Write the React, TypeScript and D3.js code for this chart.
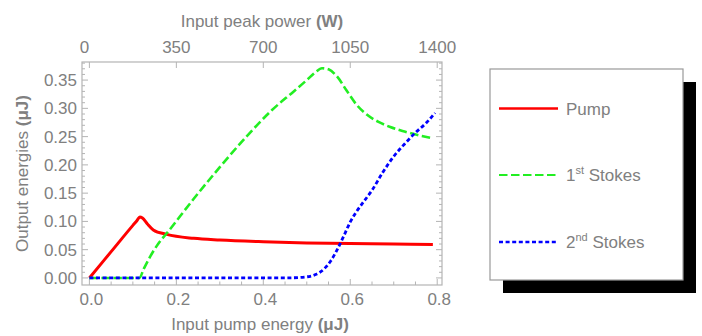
import { useEffect, useRef } from 'react';
import * as d3 from 'd3';

// Input pump energy (uJ) and output energies (uJ)
const pumpX = [0, 0.05, 0.1, 0.11, 0.116, 0.122, 0.133, 0.147, 0.178, 0.24, 0.3, 0.4, 0.5, 0.6, 0.7, 0.79];
const pumpY = [0, 0.0465, 0.093, 0.102, 0.108, 0.106, 0.096, 0.085, 0.077, 0.07, 0.067, 0.064, 0.062, 0.061, 0.06, 0.059];

const stokes1X = [0, 0.115, 0.125, 0.14, 0.158, 0.178, 0.24, 0.3, 0.36, 0.42, 0.47, 0.5, 0.52, 0.535, 0.55, 0.57, 0.592, 0.615, 0.638, 0.665, 0.692, 0.72, 0.749, 0.79];
const stokes1Y = [0, 0, 0.016, 0.038, 0.06, 0.079, 0.14, 0.196, 0.249, 0.297, 0.33, 0.35, 0.364, 0.371, 0.369, 0.356, 0.331, 0.306, 0.289, 0.276, 0.267, 0.26, 0.254, 0.247];

const stokes2X = [0, 0.45, 0.5, 0.52, 0.54, 0.555, 0.57, 0.585, 0.6, 0.615, 0.63, 0.65, 0.675, 0.7, 0.725, 0.75, 0.775, 0.795];
const stokes2Y = [0, 0, 0.002, 0.006, 0.016, 0.03, 0.05, 0.074, 0.099, 0.118, 0.134, 0.155, 0.187, 0.215, 0.237, 0.257, 0.2745, 0.292];

const bottomTicks = [0, 0.2, 0.4, 0.6, 0.8];
const leftTicks = [0, 0.05, 0.1, 0.15, 0.2, 0.25, 0.3, 0.35];
const topTicks = [0, 350, 700, 1050, 1400];
const powerPerEnergy = 1750; // W per uJ

const series = [
    { name: 'Pump', sup: '', rest: '', xs: pumpX, ys: pumpY, color: '#ff0000', dash: 'none', width: 3 },
    { name: '1', sup: 'st', rest: ' Stokes', xs: stokes1X, ys: stokes1Y, color: '#22ee22', dash: '8.5,3.5', width: 2.6 },
    { name: '2', sup: 'nd', rest: ' Stokes', xs: stokes2X, ys: stokes2Y, color: '#0000ff', dash: '4,2.6', width: 2.8 },
];

const FONT = '"Liberation Sans", Arial, sans-serif';
const TEXT = '#808080';
const FRAME = '#b4b4b4';

export default function App() {
    const svgRef = useRef<SVGSVGElement>(null);

    useEffect(() => {
        if (!svgRef.current) return;
        d3.select(svgRef.current).selectAll('*').remove();
        const svg = d3.select(svgRef.current);

        const left = 82, right = 442, top = 62, bottom = 285;

        const x = d3.scaleLinear().domain([-0.017, 0.811]).range([left, right]);
        const y = d3.scaleLinear().domain([-0.0125, 0.382]).range([bottom, top]);
        const xTop = d3.scaleLinear()
            .domain(x.domain().map(d => d * powerPerEnergy))
            .range([left, right]);

        // Frame
        svg.append('rect')
            .attr('x', left).attr('y', top)
            .attr('width', right - left).attr('height', bottom - top)
            .attr('fill', 'white')
            .attr('stroke', FRAME)
            .attr('stroke-width', 1.2);

        const ticks = svg.append('g').attr('stroke', FRAME).attr('stroke-width', 1);

        // bottom ticks (major 0.2, minor 0.05)
        d3.range(0, 0.801, 0.05).forEach(v => {
            const major = bottomTicks.some(t => Math.abs(t - v) < 1e-6);
            const len = major ? 6 : 3.5;
            ticks.append('line')
                .attr('x1', x(v)).attr('x2', x(v))
                .attr('y1', bottom).attr('y2', bottom - len);
        });
        // top ticks for peak power
        topTicks.forEach(v => {
            ticks.append('line')
                .attr('x1', xTop(v)).attr('x2', xTop(v))
                .attr('y1', top).attr('y2', top + 6);
        });
        // left / right ticks (major 0.05, minor 0.01)
        d3.range(0, 0.3801, 0.01).forEach(v => {
            const major = leftTicks.some(t => Math.abs(t - v) < 1e-6);
            const len = major ? 6 : 3;
            ticks.append('line')
                .attr('x1', left).attr('x2', left + len)
                .attr('y1', y(v)).attr('y2', y(v));
            ticks.append('line')
                .attr('x1', right).attr('x2', right - len)
                .attr('y1', y(v)).attr('y2', y(v));
        });

        // Tick labels
        svg.append('g').selectAll('text')
            .data(bottomTicks)
            .enter()
            .append('text')
            .attr('x', d => x(d) + 2)
            .attr('y', 305)
            .attr('text-anchor', 'middle')
            .text(d => d.toFixed(1));

        svg.append('g').selectAll('text')
            .data(leftTicks)
            .enter()
            .append('text')
            .attr('x', 77)
            .attr('y', d => y(d) + 6)
            .attr('text-anchor', 'end')
            .text(d => d.toFixed(2));

        svg.append('g').selectAll('text')
            .data(topTicks)
            .enter()
            .append('text')
            .attr('x', d => xTop(d) + (d === 0 ? -5 : 0))
            .attr('y', 53)
            .attr('text-anchor', 'middle')
            .text(d => String(d));

        // Axis titles
        const bt = svg.append('text').attr('x', 260).attr('y', 330).attr('text-anchor', 'middle');
        bt.append('tspan').text('Input pump energy ');
        bt.append('tspan').attr('font-weight', 'bold').text('(μJ)');

        const tt = svg.append('text').attr('x', 262).attr('y', 27).attr('text-anchor', 'middle');
        tt.append('tspan').text('Input peak power ');
        tt.append('tspan').attr('font-weight', 'bold').text('(W)');

        const lt = svg.append('text')
            .attr('transform', `translate(28,${(top + bottom) / 2}) rotate(-90)`)
            .attr('text-anchor', 'middle');
        lt.append('tspan').text('Output energies ');
        lt.append('tspan').attr('font-weight', 'bold').text('(μJ)');

        // Curves
        const plot = svg.append('g');
        series.forEach(s => {
            const pts: [number, number][] = s.xs.map((v, i) => [v, s.ys[i]]);
            const line = d3.line<[number, number]>()
                .x(d => x(d[0]))
                .y(d => y(d[1]))
                .curve(d3.curveMonotoneX);
            plot.append('path')
                .datum(pts)
                .attr('d', line)
                .attr('fill', 'none')
                .attr('stroke', s.color)
                .attr('stroke-width', s.width)
                .attr('stroke-dasharray', s.dash)
                .attr('stroke-linejoin', 'round');
        });

        // Legend with drop shadow
        const lx = 490, ly = 69, lw = 193, lh = 211;
        svg.append('rect')
            .attr('x', lx + 13).attr('y', ly + 13)
            .attr('width', lw).attr('height', lh)
            .attr('fill', 'black');
        svg.append('rect')
            .attr('x', lx).attr('y', ly)
            .attr('width', lw).attr('height', lh)
            .attr('fill', 'white')
            .attr('stroke', '#999')
            .attr('stroke-width', 1.2);

        const rows = [108.5, 175, 242];
        series.forEach((s, i) => {
            const g = svg.append('g').attr('transform', `translate(0,${rows[i]})`);
            g.append('line')
                .attr('x1', 499).attr('x2', 558)
                .attr('y1', 0).attr('y2', 0)
                .attr('stroke', s.color)
                .attr('stroke-width', s.width - 0.4)
                .attr('stroke-dasharray', s.dash);
            const t = g.append('text').attr('x', 566).attr('y', 6);
            t.append('tspan').text(s.name);
            if (s.sup) {
                t.append('tspan').attr('font-size', 11).attr('dy', -7).text(s.sup);
                t.append('tspan').attr('dy', 7).text(s.rest);
            }
        });

        svg.selectAll('text')
            .attr('font-family', FONT)
            .attr('fill', TEXT);
        svg.selectAll('text').filter(function () {
            return !d3.select(this).attr('font-size');
        }).attr('font-size', 17);
    }, []);

    return (
        <svg
            ref={svgRef}
            width={702}
            height={336}
            style={{ position: 'absolute', left: 0, top: 0, background: 'white' }}
        />
    );
}
